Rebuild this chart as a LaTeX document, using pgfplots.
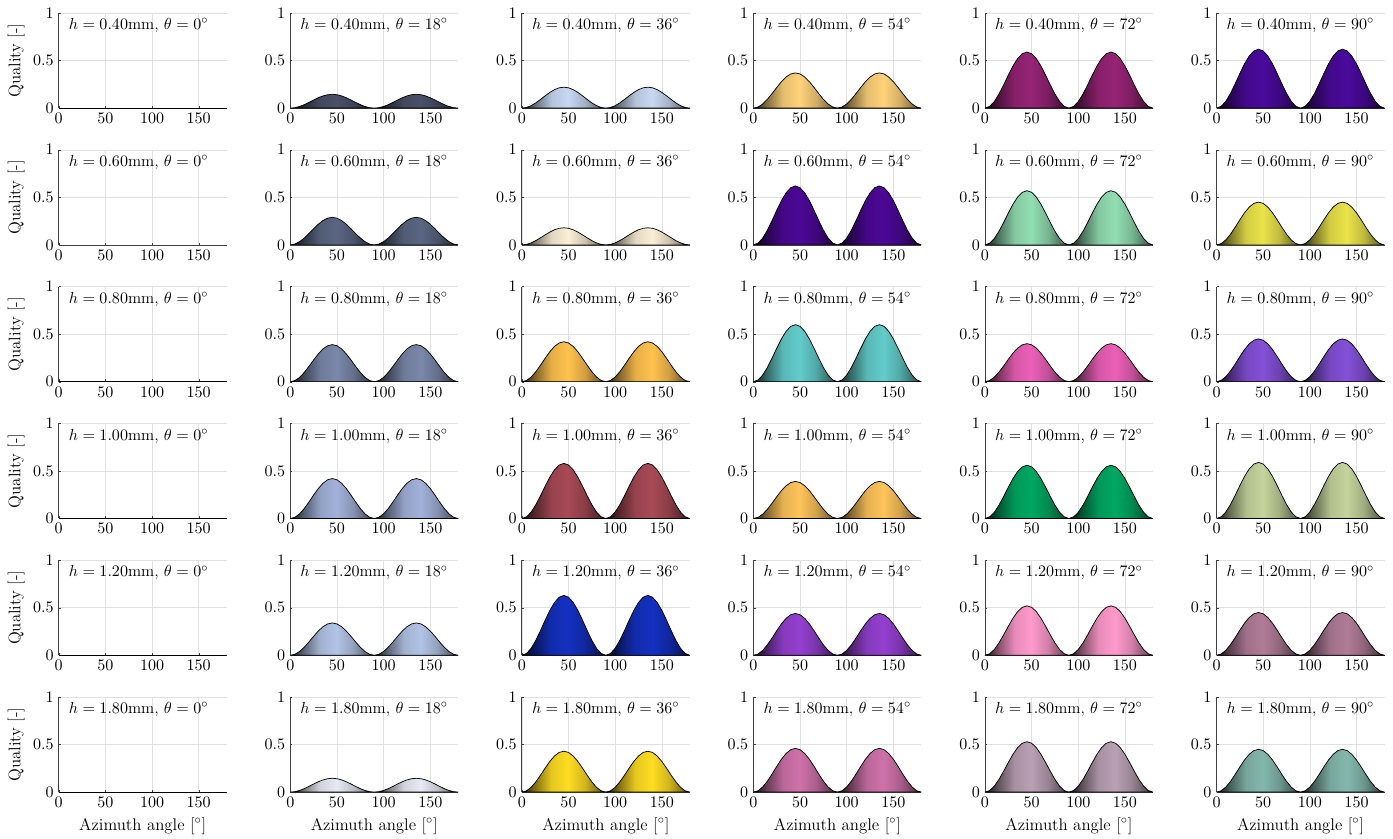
\documentclass[border=0pt]{standalone}
\usepackage{pgfplots}
\pgfplotsset{compat=1.18}
\usepackage{pgfplotstable}
\usepgfplotslibrary{groupplots}

\pgfplotstableread{
x q
0 0
5 0.030154
10 0.116978
15 0.25
20 0.413176
25 0.586824
30 0.75
35 0.883022
40 0.969846
45 1
50 0.969846
55 0.883022
60 0.75
65 0.586824
70 0.413176
75 0.25
80 0.116978
85 0.030154
90 0
95 0.030154
100 0.116978
105 0.25
110 0.413176
115 0.586824
120 0.75
125 0.883022
130 0.969846
135 1
140 0.969846
145 0.883022
150 0.75
155 0.586824
160 0.413176
165 0.25
170 0.116978
175 0.030154
180 0
}\shapetab

% colours, row r (h) and column c (theta)
\definecolor{ra}{HTML}{4A5068}\definecolor{rb}{HTML}{C8D8F2}\definecolor{rc}{HTML}{FFD27A}\definecolor{rd}{HTML}{962476}\definecolor{re}{HTML}{4A0A9C}
\definecolor{sa}{HTML}{5A6682}\definecolor{sb}{HTML}{FBEFD5}\definecolor{sc}{HTML}{4C0896}\definecolor{sd}{HTML}{92DEB2}\definecolor{se}{HTML}{EAE34A}
\definecolor{ta}{HTML}{7A88AA}\definecolor{tb}{HTML}{FFC24E}\definecolor{tc}{HTML}{62CCCA}\definecolor{td}{HTML}{EC60B8}\definecolor{te}{HTML}{8450D8}
\definecolor{ua}{HTML}{A2B2DA}\definecolor{ub}{HTML}{A84A56}\definecolor{uc}{HTML}{FFC45A}\definecolor{ud}{HTML}{00A862}\definecolor{ue}{HTML}{C4D49C}
\definecolor{va}{HTML}{B2C4E6}\definecolor{vb}{HTML}{1430C0}\definecolor{vc}{HTML}{9440D0}\definecolor{vd}{HTML}{FF9ACC}\definecolor{ve}{HTML}{B07C98}
\definecolor{wa}{HTML}{E6EAF4}\definecolor{wb}{HTML}{FFDD22}\definecolor{wc}{HTML}{CE72AA}\definecolor{wd}{HTML}{BAA0B4}\definecolor{we}{HTML}{84B8AC}

\colorlet{hc}{black}
\pgfdeclarehorizontalshading[hc]{hump}{100bp}{%
  color(0bp)=(hc!10!black); color(25bp)=(hc!10!black);
  color(32.5bp)=(hc!50!black); color(42.5bp)=(hc!90!black);
  color(52.5bp)=(hc); color(62.5bp)=(hc!82!black);
  color(75bp)=(hc!35!black); color(100bp)=(hc!35!black)}

\newcommand{\hump}[3]{%
  \addplot[/utils/exec={\colorlet{hc}{#1}}, draw=black, line width=0.5pt, shade, shading=hump,
    restrict x to domain=#3] table[x=x, y expr=#2*\thisrow{q}] {\shapetab} \closedcycle;}

\newcommand{\tag}[2]{\node[anchor=north west, inner sep=1pt, font=\fontsize{11}{13}\selectfont] at (rel axis cs:0.05,0.96) {$h=#1$mm, $\theta=#2^\circ$};}

\newcommand{\panel}[5][]{%
  \nextgroupplot[#1]
  \hump{#4}{#5}{0:90}
  \hump{#4}{#5}{90:180}
  \tag{#2}{#3}}

\newcommand{\zeropanel}[2][]{%
  \nextgroupplot[ylabel={Quality [-]},#1]
  \addplot[black, line width=0.5pt] coordinates {(0,0) (180,0)};
  \tag{#2}{0}}

\begin{document}
\begin{tikzpicture}
\begin{groupplot}[
  group style={group name=G, group size=6 by 6, horizontal sep=43.4pt, vertical sep=28.5pt},
  scale only axis, width=114.7pt, height=64.9pt,
  xmin=0, xmax=180, ymin=0, ymax=1,
  xtick={0,50,100,150}, ytick={0,0.5,1},
  axis x line*=bottom, axis y line*=left,
  axis line style={black!75, line width=0.5pt},
  grid=major, major grid style={black!12, line width=0.4pt},
  tick align=inside, major tick length=1.5pt, tick style={black!75},
  tick label style={font=\fontsize{11}{13}\selectfont},
  label style={font=\fontsize{11.5}{13}\selectfont},
  ylabel style={yshift=-1pt},
  yticklabel style={/pgf/number format/fixed},
]
% row 1
\zeropanel{0.40}
\panel{0.40}{18}{ra}{0.145}
\panel{0.40}{36}{rb}{0.22}
\panel{0.40}{54}{rc}{0.37}
\panel{0.40}{72}{rd}{0.59}
\panel{0.40}{90}{re}{0.62}
% row 2
\zeropanel{0.60}
\panel{0.60}{18}{sa}{0.29}
\panel{0.60}{36}{sb}{0.18}
\panel{0.60}{54}{sc}{0.62}
\panel{0.60}{72}{sd}{0.57}
\panel{0.60}{90}{se}{0.45}
% row 3
\zeropanel{0.80}
\panel{0.80}{18}{ta}{0.39}
\panel{0.80}{36}{tb}{0.42}
\panel{0.80}{54}{tc}{0.60}
\panel{0.80}{72}{td}{0.40}
\panel{0.80}{90}{te}{0.45}
% row 4
\zeropanel{1.00}
\panel{1.00}{18}{ua}{0.42}
\panel{1.00}{36}{ub}{0.58}
\panel{1.00}{54}{uc}{0.39}
\panel{1.00}{72}{ud}{0.56}
\panel{1.00}{90}{ue}{0.59}
% row 5
\zeropanel{1.20}
\panel{1.20}{18}{va}{0.34}
\panel{1.20}{36}{vb}{0.63}
\panel{1.20}{54}{vc}{0.44}
\panel{1.20}{72}{vd}{0.52}
\panel{1.20}{90}{ve}{0.45}
% row 6
\zeropanel[xlabel={Azimuth angle [$^\circ$]}]{1.80}
\panel[xlabel={Azimuth angle [$^\circ$]}]{1.80}{18}{wa}{0.145}
\panel[xlabel={Azimuth angle [$^\circ$]}]{1.80}{36}{wb}{0.43}
\panel[xlabel={Azimuth angle [$^\circ$]}]{1.80}{54}{wc}{0.46}
\panel[xlabel={Azimuth angle [$^\circ$]}]{1.80}{72}{wd}{0.53}
\panel[xlabel={Azimuth angle [$^\circ$]}]{1.80}{90}{we}{0.45}
\end{groupplot}
\pgfresetboundingbox
\path[use as bounding box] (G c1r1.north west) ++(-40.1pt,8.9pt) rectangle ++(951.1pt,-572.8pt);
\end{tikzpicture}
\end{document}
